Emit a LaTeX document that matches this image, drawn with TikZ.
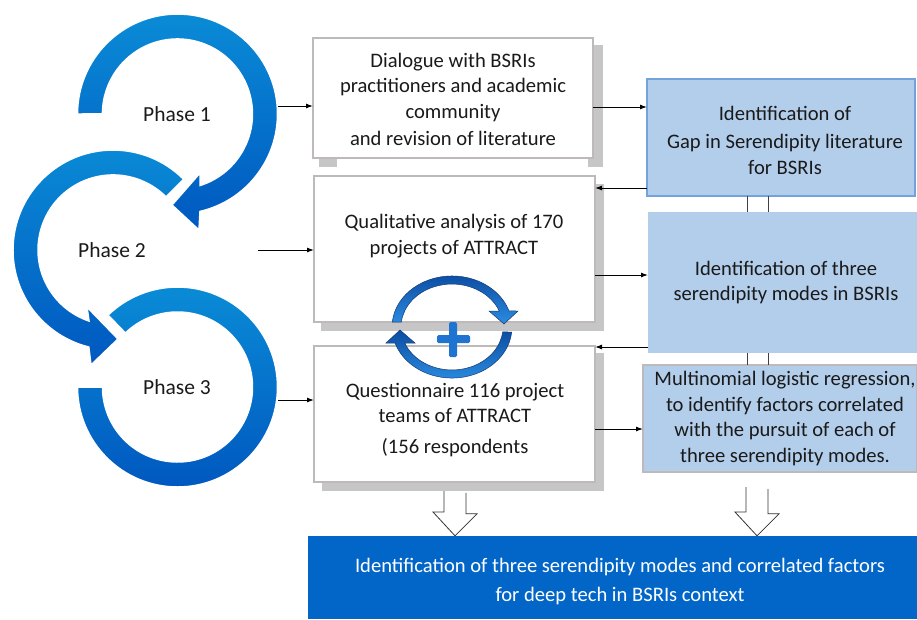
\documentclass[tikz,border=0pt]{standalone}
\usepackage{fontspec}
\setmainfont{Carlito}
\usetikzlibrary{arrows.meta,calc}
\definecolor{ringtop}{HTML}{0A8BD6}
\definecolor{ringbot}{HTML}{0058C0}
\definecolor{boxgray}{HTML}{BEBABA}
\definecolor{shadowgray}{HTML}{C6C6C6}
\definecolor{lightblue}{HTML}{B3CEEB}
\definecolor{blueborder}{HTML}{72A3DA}
\definecolor{darkblue}{HTML}{0266C8}
\definecolor{iconA}{HTML}{0B4CA3}
\definecolor{iconB}{HTML}{2A8CE0}
\definecolor{iconline}{HTML}{183A70}
\definecolor{pluscol}{HTML}{1E74CF}
\definecolor{txtcol}{HTML}{1A1A1A}
\tikzset{
  ring/.style={top color=ringtop, bottom color=ringbot, draw=white, line width=1.5pt},
  shadowfill/.style={fill=shadowgray, draw=none},
  graybox/.style={draw=boxgray, line width=2.5pt, fill=white, inner sep=0pt, outer sep=0pt},
  bluebox/.style={fill=lightblue, inner sep=0pt, outer sep=0pt},
  txt/.style={align=center, inner sep=0pt, text=txtcol},
  arr/.style={-{Latex[length=7pt,width=5pt]}, line width=1pt, black},
  hollow/.style={draw=black!80, fill=white, line width=0.8pt},
  stemline/.style={draw=black!75, line width=0.8pt},
  iconarc/.style={top color=iconA, bottom color=iconB, draw=iconline, line width=0.5pt}
}
\begin{document}
\begin{tikzpicture}[x=1pt,y=1pt, font=\fontsize{20.6}{25.5}\selectfont]
\useasboundingbox (0,0) rectangle (917,-619);

% ---- Phase rings ----
\shadedraw[ring] (77.5,-387) arc[start angle=180,end angle=494,radius=100]
  -- (125.4,-333.05) arc[start angle=494,end angle=180,radius=75] -- cycle;
\shadedraw[ring] (183.7,-179.3) arc[start angle=45,end angle=256,radius=100]
  -- (91,-365) -- (118,-339) -- (87,-307) -- (89,-321)
  arc[start angle=251.3,end angle=45,radius=75] -- cycle;
\shadedraw[ring] (77.5,-114) arc[start angle=180,end angle=-77,radius=100]
  -- (199,-230) -- (172,-205) -- (200,-173) -- (200,-185.5)
  arc[start angle=-72.5,end angle=180,radius=75] -- cycle;

\node[txt, font=\fontsize{21.5}{25.5}\selectfont] (ph1) at (177,-114) {Phase 1};
\node[txt, font=\fontsize{21.5}{25.5}\selectfont] (ph2) at (112,-250) {Phase 2};
\node[txt, font=\fontsize{21.5}{25.5}\selectfont] (ph3) at (177,-387) {Phase 3};

\coordinate (p1) at (278,-106);
\coordinate (p2) at (258,-250);
\coordinate (p3) at (278,-400);

% ---- shadows ----
\fill[shadowfill] (593,-45) rectangle (603,-167);
\fill[shadowfill] (319,-158) rectangle (337,-167);
\fill[shadowfill] (588,-158) rectangle (603,-167);
\fill[shadowfill] (321,-184) rectangle (604,-331);
\fill[shadowfill] (322,-353) rectangle (604,-491);

% ---- left boxes ----
\node[graybox, minimum width=280pt, minimum height=120pt] (A) at (453,-98) {};
\node[graybox, minimum width=281pt, minimum height=146pt] (B) at (454.5,-249) {};
\node[graybox, minimum width=281pt, minimum height=136pt] (C) at (454.5,-414) {};

\node[txt] (At) at (453,-99.5) {Dialogue with BSRIs\\practitioners and academic\\community\\[2pt]and revision of literature};
\node[txt] (Bt) at (454,-236) {Qualitative analysis of 170\\projects of ATTRACT};
\node[txt] (Ct) at (455,-420) {Questionnaire 116 project\\teams of ATTRACT\\[5pt](156 respondents};

% ---- right boxes ----
\node[bluebox, draw=blueborder, line width=2pt, minimum width=268pt, minimum height=117pt] (D) at (781,-137.5) {};
\node[bluebox, minimum width=269pt, minimum height=141pt] (E) at (782.5,-282.5) {};
\node[bluebox, draw=boxgray, line width=2.5pt, minimum width=274pt, minimum height=107pt] (F) at (780,-418.5) {};

\node[txt] (Dt) at (785,-140) {Identification of\\[3pt]Gap in Serendipity literature\\for BSRIs};
\node[txt] (Et) at (786,-282.5) {Identification of three\\serendipity modes in BSRIs};
\node[txt] (Ft) at (785,-418.5) {Multinomial logistic regression,\\to identify factors correlated\\with the pursuit of each of\\three serendipity modes.};

% ---- bottom box ----
\node[fill=darkblue, inner sep=0pt, minimum width=609pt, minimum height=83pt] (G) at (612.5,-577.5) {};
\node[txt, text=white] (Gt) at (620,-581.5) {Identification of three serendipity modes and correlated factors\\[3pt]for deep tech in BSRIs context};

% ---- vertical links between right boxes ----
\coordinate (xa) at (747,0);
\coordinate (xb) at (768,0);
\draw[stemline] (D.south -| xa) -- (E.north -| xa);
\draw[stemline] (D.south -| xb) -- (E.north -| xb);
\draw[stemline] (E.south -| xa) -- (F.north -| xa);
\draw[stemline] (E.south -| xb) -- (F.north -| xb);

% ---- arrows ----
\draw[arr] (p1) -- (p1 -| A.west);
\draw[arr] ([yshift=-9pt]A.east) -- ([yshift=-9pt]A.east -| D.west);
\draw[arr] ([yshift=-50.5pt]D.west) -- ([yshift=-50.5pt]D.west -| B.east);
\draw[arr] (p2) -- (p2 -| B.west);
\draw[arr] ([yshift=-26pt]B.east) -- ([yshift=-26pt]B.east -| E.west);
\draw[arr] ([yshift=-64.5pt]E.west) -- ([yshift=-64.5pt]E.west -| C.east);
\draw[arr] (p3) -- (p3 -| C.west);
\draw[arr] ([yshift=-15pt]C.east) -- ([yshift=-15pt]C.east -| F.west);

% ---- hollow down arrows ----
\coordinate (h1) at (455,-491);
\coordinate (h2) at (757,-487);
\path[hollow] (h1) ++(-11,0) -- ++(0,-21) -- ++(-11,0) -- (h1 |- G.north) -- ++(22,22) -- ++(-11,0) -- ++(0,21);
\path[hollow] (h2) ++(-11,0) -- ++(0,-25) -- ++(-11,0) -- (h2 |- G.north) -- ++(22,22) -- ++(-11,0) -- ++(0,25);

% ---- cycle icon ----
\shadedraw[iconarc] (392.3,-322) arc[start angle=174.4,end angle=18.3,x radius=60,y radius=51]
  -- (518,-311) -- (504,-324) -- (489,-311) -- (499.3,-311)
  arc[start angle=21.9,end angle=173.3,x radius=51,y radius=43] -- cycle;
\shadedraw[iconarc, rotate around={180:(452,-327)}] (392.3,-322) arc[start angle=174.4,end angle=18.3,x radius=60,y radius=51]
  -- (518,-311) -- (504,-324) -- (489,-311) -- (499.3,-311)
  arc[start angle=21.9,end angle=173.3,x radius=51,y radius=43] -- cycle;
\fill[pluscol, rounded corners=1.5pt] (437,-335) rectangle (470,-343);
\fill[pluscol, rounded corners=1.5pt] (449,-322) rectangle (457,-357);
\end{tikzpicture}
\end{document}
